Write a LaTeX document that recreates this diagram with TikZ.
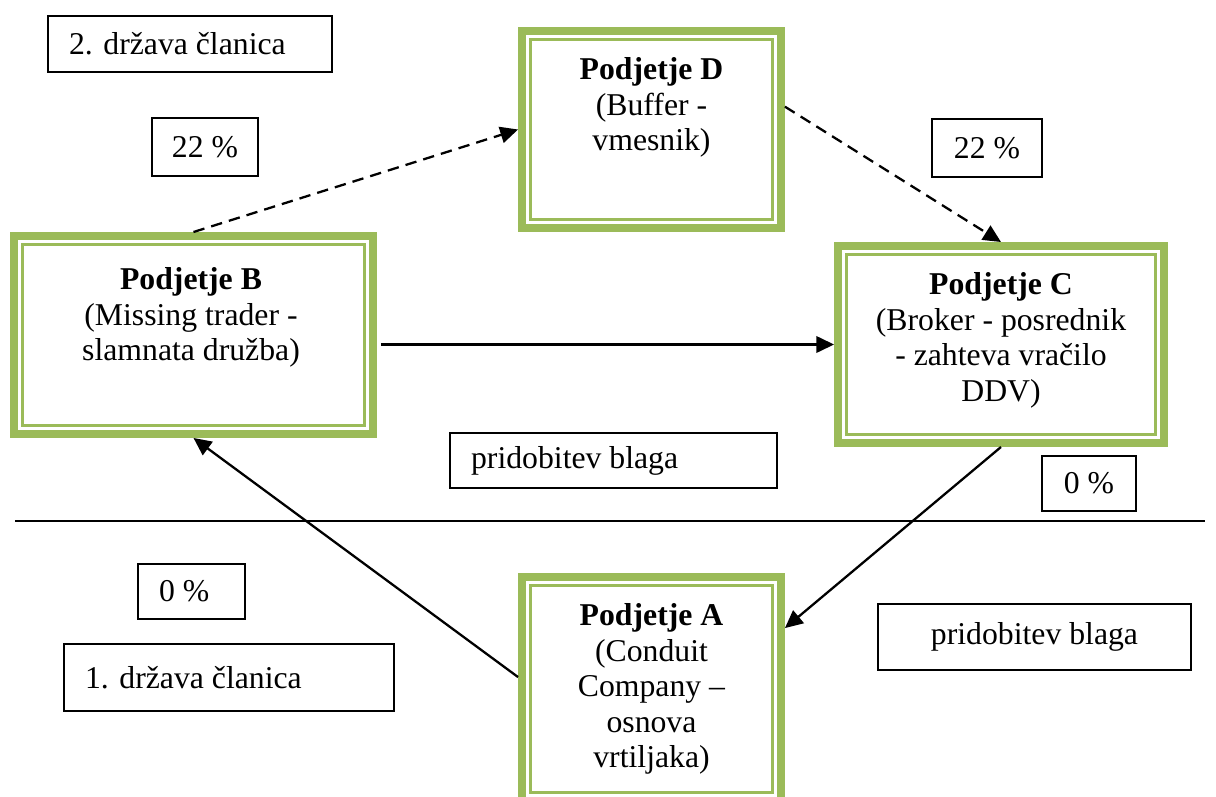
\documentclass[tikz,border=0pt]{standalone}
\usepackage{fontspec}
\setmainfont{Liberation Serif}
\usetikzlibrary{arrows.meta}
\definecolor{zelena}{HTML}{9BBB59}

\begin{document}
\begin{tikzpicture}[x=0.394pt, y=-0.394pt,
  font=\fontsize{12.5pt}{14pt}\selectfont,
  firma/.style={draw=zelena, line width=3.15pt},
  okvir/.style={draw, line width=0.8pt, inner sep=0pt},
  levo/.style={align=flush left, inner xsep=8.3pt},
  opis/.style={align=center, anchor=north, inner sep=0pt},
  puscica/.style={line width=0.9pt, -{Triangle[length=7pt,width=6.5pt]}},
  crtkana/.style={puscica, dash pattern=on 4.5pt off 2.8pt}]
\clip (0,0) rectangle (1216,796);

%podjetja
\node[firma, minimum width=102pt, minimum height=77.6pt] (D) at (651.5,129.5) {};
\node[firma, minimum width=141.4pt, minimum height=78pt] (B) at (193.5,335) {};
\node[firma, minimum width=128.4pt, minimum height=77.6pt] (C) at (1001,344.5) {};
\node[firma, minimum width=102pt, minimum height=88.3pt] (A) at (651.5,689) {};
%notranji okvir
\foreach \p in {A,B,C,D}
  \draw[zelena, line width=1pt] ([shift={(4.85pt,-4.85pt)}]\p.north west) rectangle ([shift={(-4.85pt,4.85pt)}]\p.south east);

%besedila v podjetjih
\node[opis] (Dt) at (651.5,57) {\textbf{Podjetje D}\\(Buffer -\\vmesnik)};
\node[opis] (Bt) at (191,267) {\textbf{Podjetje B}\\(Missing trader -\\slamnata družba)};
\node[opis] (Ct) at (1001,272) {\textbf{Podjetje C}\\(Broker - posrednik\\- zahteva vračilo\\DDV)};
\node[opis] (At) at (651.5,603) {\textbf{Podjetje A}\\(Conduit\\Company –\\osnova\\vrtiljaka)};

%okvirji
\node[okvir, levo, text width=95.3pt, minimum height=22.1pt] (drz2) at (190,44) {2. država članica};
\node[okvir, minimum width=41.8pt, minimum height=22.9pt] (p22a) at (205,147) {22 \%};
\node[okvir, minimum width=43pt, minimum height=22.9pt] (p22b) at (987,148) {22 \%};
\node[okvir, levo, text width=112.2pt, minimum height=21.7pt] (prid1) at (613.5,460.5) {pridobitev blaga};
\node[okvir, minimum width=37pt, minimum height=21.7pt] (p0a) at (1089,483.5) {0 \%};
\node[okvir, levo, text width=25.6pt, minimum height=21.7pt] (p0b) at (191.5,591.5) {0 \%};
\node[okvir, levo, text width=113.4pt, minimum height=26.4pt] (drz1) at (229,677.5) {1. država članica};
\node[okvir, minimum width=123.3pt, minimum height=26pt] (prid2) at (1034.5,637) {pridobitev blaga};

%meja
\coordinate (mejaL) at (15,521); \coordinate (mejaD) at (1205,521);
\draw[line width=0.8pt] (mejaL) -- (mejaD);

%puscice
\draw[crtkana] (B.north) -- (D.west);
\draw[crtkana] ([yshift=9pt]D.east) -- (C.north);
\draw[puscica, shorten <=1.5pt] (B.east |- C.west) -- (C.west);
\draw[puscica] (C.south) -- ([yshift=24pt]A.east);
\draw[puscica] ([yshift=4.7pt]A.west) -- (B.south);
\end{tikzpicture}
\end{document}
